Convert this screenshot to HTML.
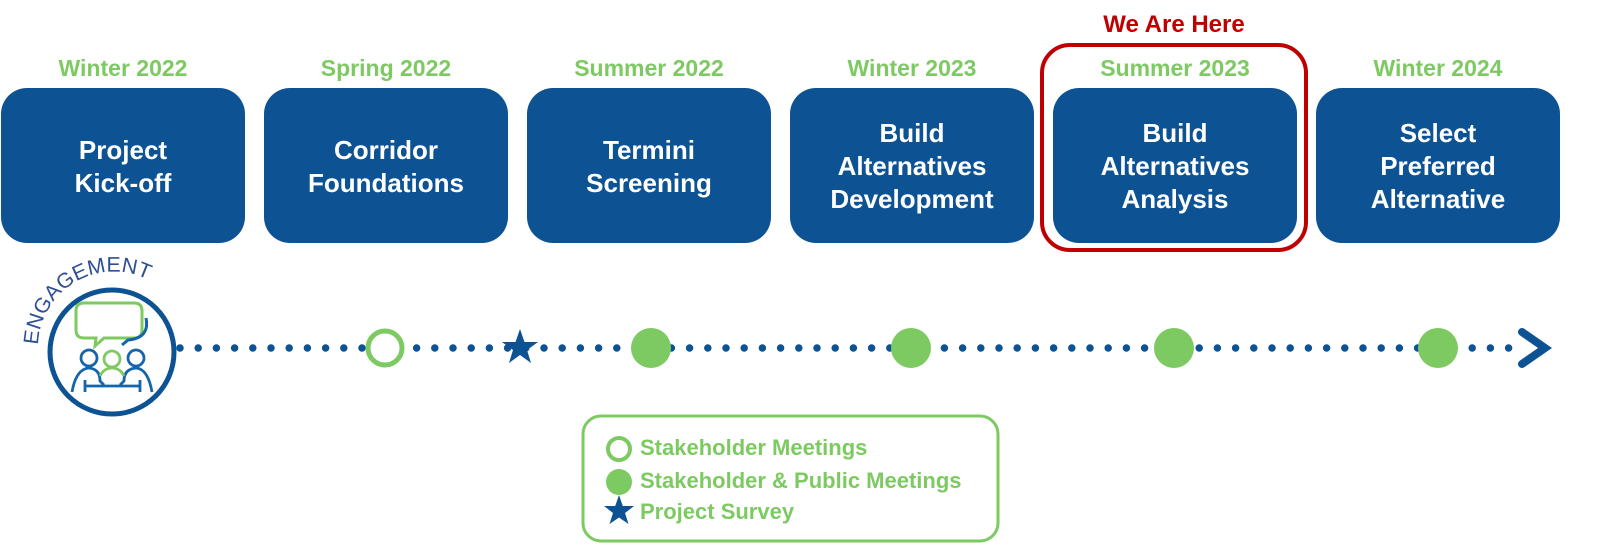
<!DOCTYPE html>
<html><head><meta charset="utf-8"><style>
html,body{margin:0;padding:0;background:#fff;width:1600px;height:544px;overflow:hidden}
svg{display:block}
</style></head><body>
<svg width="1600" height="544" viewBox="0 0 1600 544" xmlns="http://www.w3.org/2000/svg" font-family="'Liberation Sans', sans-serif">
<rect x="1042" y="45" width="264" height="205" rx="28" fill="none" stroke="#c00000" stroke-width="4"/>
<text x="1174" y="32" text-anchor="middle" font-size="24" font-weight="bold" fill="#c00000">We Are Here</text>
<g fill="#0d5394">
<rect x="1" y="88" width="244" height="155" rx="26"/>
<rect x="264" y="88" width="244" height="155" rx="26"/>
<rect x="527" y="88" width="244" height="155" rx="26"/>
<rect x="790" y="88" width="244" height="155" rx="26"/>
<rect x="1053" y="88" width="244" height="155" rx="26"/>
<rect x="1316" y="88" width="244" height="155" rx="26"/>
</g>
<g font-size="23" font-weight="bold" fill="#7dc962" text-anchor="middle">
<text x="123" y="76">Winter 2022</text>
<text x="386" y="76">Spring 2022</text>
<text x="649" y="76">Summer 2022</text>
<text x="912" y="76">Winter 2023</text>
<text x="1175" y="76">Summer 2023</text>
<text x="1438" y="76">Winter 2024</text>
</g>
<g font-size="26" font-weight="bold" fill="#fff" text-anchor="middle">
<text x="123" y="159">Project</text><text x="123" y="192">Kick-off</text>
<text x="386" y="159">Corridor</text><text x="386" y="192">Foundations</text>
<text x="649" y="159">Termini</text><text x="649" y="192">Screening</text>
<text x="912" y="142">Build</text><text x="912" y="175">Alternatives</text><text x="912" y="208">Development</text>
<text x="1175" y="142">Build</text><text x="1175" y="175">Alternatives</text><text x="1175" y="208">Analysis</text>
<text x="1438" y="142">Select</text><text x="1438" y="175">Preferred</text><text x="1438" y="208">Alternative</text>
</g>
<line x1="180" y1="348" x2="1515" y2="348" stroke="#0d5394" stroke-width="7.5" stroke-linecap="round" stroke-dasharray="0 18.2"/>
<polyline points="1522,332 1545,348 1522,364" fill="none" stroke="#0d5394" stroke-width="8" stroke-linecap="round" stroke-linejoin="miter"/>
<circle cx="385" cy="348" r="17" fill="#fff" stroke="#7dc962" stroke-width="5"/>
<polygon fill="#0d5394" transform="translate(520,348)" points="0,-19 4.5,-6 18,-6 7,2 11,15 0,7 -11,15 -7,2 -18,-6 -4.5,-6"/>
<g fill="#7dc962">
<circle cx="651" cy="348" r="20"/>
<circle cx="911" cy="348" r="20"/>
<circle cx="1174" cy="348" r="20"/>
<circle cx="1438" cy="348" r="20"/>
</g>
<circle cx="112" cy="352" r="62" fill="#fff" stroke="#0d5394" stroke-width="5"/>
<defs><path id="arc" d="M 38 345 A 76 76 0 0 1 180 310"/></defs>
<text font-size="21" fill="#2d4f93"><textPath href="#arc" textLength="152" lengthAdjust="spacingAndGlyphs">ENGAGEMENT</textPath></text>
<path d="M84 303 H134 Q142 303 142 311 V330 Q142 338 134 338 H104 L95 346 L96 338 H84 Q76 338 76 330 V311 Q76 303 84 303 Z" fill="none" stroke="#7dc962" stroke-width="3"/>
<path d="M146 318 Q150 338 128 340 L122 345" fill="none" stroke="#1565a8" stroke-width="3"/>
<g fill="none" stroke-width="2.8">
<circle cx="89" cy="358" r="8" stroke="#1565a8"/>
<circle cx="136" cy="358" r="8" stroke="#1565a8"/>
<circle cx="112" cy="359" r="8" stroke="#7dc962"/>
<path d="M72 392 Q76 369 89 368 Q100 369 100 381 L104 385" stroke="#1565a8"/>
<path d="M152 392 Q148 369 136 368 Q124 369 124 381 L120 385" stroke="#1565a8"/>
<path d="M100 376 Q104 368 112 368 Q120 368 124 376" stroke="#7dc962"/>
<path d="M85 380 V392 M140 380 V392 M85 386 H140" stroke="#1565a8"/>
</g>
<rect x="583" y="416" width="415" height="125" rx="18" fill="none" stroke="#7dc962" stroke-width="3"/>
<circle cx="619" cy="449" r="11" fill="none" stroke="#7dc962" stroke-width="4"/>
<circle cx="619" cy="482" r="13" fill="#7dc962"/>
<polygon fill="#0d5394" transform="translate(619,511)" points="0,-16 3.8,-5 15,-5 6,2 9.5,13 0,6.5 -9.5,13 -6,2 -15,-5 -3.8,-5"/>
<g font-size="22" font-weight="bold" fill="#7dc962">
<text x="640" y="455">Stakeholder Meetings</text>
<text x="640" y="488">Stakeholder &amp; Public Meetings</text>
<text x="640" y="519">Project Survey</text>
</g>
</svg>
</body></html>
